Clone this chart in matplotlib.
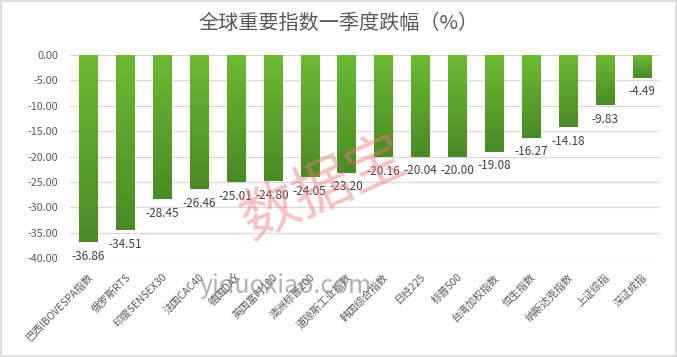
import matplotlib
matplotlib.use("Agg")
import matplotlib.pyplot as plt
import numpy as np
from matplotlib.patches import Rectangle
from matplotlib.colors import LinearSegmentedColormap

plt.rcParams['font.family'] = ['Noto Sans CJK SC', 'DejaVu Sans']

categories = ["巴西IBOVESPA指数", "俄罗斯RTS", "印度SENSEX30", "法国CAC40", "德国DAX",
              "英国富时100", "澳洲标普200", "道琼斯工业指数", "韩国综合指数", "日经225",
              "标普500", "台湾加权指数", "恒生指数", "纳斯达克指数", "上证综指", "深证成指"]
values = [-36.86, -34.51, -28.45, -26.46, -25.01, -24.80, -24.05, -23.20, -20.16,
          -20.04, -20.00, -19.08, -16.27, -14.18, -9.83, -4.49]
yticks = [0, -5, -10, -15, -20, -25, -30, -35, -40]

fig = plt.figure(figsize=(6.77, 3.57), dpi=100)
fig.patches.append(Rectangle((0.002, 0.003), 0.996, 0.994, transform=fig.transFigure,
                             fill=False, edgecolor='#d9d9d9', linewidth=1.2))
ax = fig.add_axes([0.103, 0.277, 0.872, 0.569])

x = np.arange(len(categories))
bars = ax.bar(x, values, width=0.49, color='none', zorder=3)
grad = np.linspace(0, 1, 256).reshape(-1, 1)
cmap = LinearSegmentedColormap.from_list('g', ['#6cbb33', '#4a8a26'])
for b in bars:
    x0, y0 = b.get_x(), b.get_y()
    w, h = b.get_width(), b.get_height()
    im = ax.imshow(grad, extent=[x0, x0 + w, y0 + h, y0], aspect='auto', cmap=cmap,
                   origin='upper', zorder=3)
    im.set_clip_path(b)
for xi, v in zip(x, values):
    ax.text(xi, v - 1.5, f"{v:.2f}", ha='center', va='top', fontsize=8.5,
            color='#404040', zorder=4)

ax.set_xlim(-0.5, len(categories) - 0.5)
ax.set_ylim(-40, 0)
ax.set_yticks(yticks)
ax.set_yticklabels([f"{t:.2f}" for t in yticks], fontsize=7.8, color='#595959')
ax.set_xticks(x)
ax.set_xticklabels(categories, rotation=45, ha='right', rotation_mode='anchor',
                   fontsize=7.5, color='#595959')
ax.tick_params(axis='y', length=0, pad=8)
ax.tick_params(axis='x', length=0, pad=10)
ax.grid(axis='y', color='#d9d9d9', linewidth=0.9, zorder=0)
for s in ax.spines.values():
    s.set_visible(False)
ax.set_axisbelow(True)

fig.text(0.5, 0.935, "全球重要指数一季度跌幅（%）", ha='center', va='center',
         fontsize=14.5, color='#595959')

# watermarks
fig.text(0.478, 0.47, "数据宝", ha='center', va='center', fontsize=42, color='#f07878',
         alpha=0.45, rotation=24, fontweight='light')
fig.text(0.422, 0.2, "yiduoxiao.com", ha='center', va='center', fontsize=18,
         color='#808080', alpha=0.6)

fig.savefig("out.png", dpi=100)
